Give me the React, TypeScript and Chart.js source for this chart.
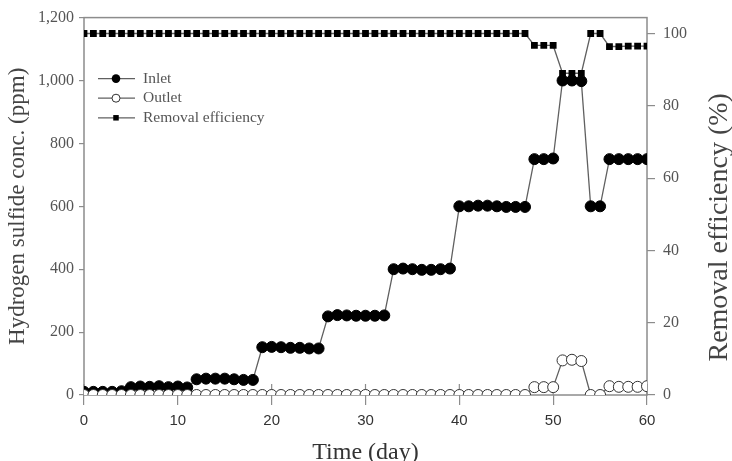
import React, { useEffect, useRef } from "react";
import { Chart, registerables } from "chart.js";

Chart.register(...registerables);

// ---------- data ----------
const days = [
  0, 1, 2, 3, 4, 5, 6, 7, 8, 9,
  10, 11, 12, 13, 14, 15, 16, 17, 18, 19,
  20, 21, 22, 23, 24, 25, 26, 27, 28, 29,
  30, 31, 32, 33, 34, 35, 36, 37, 38, 39,
  40, 41, 42, 43, 44, 45, 46, 47, 48, 49,
  50, 51, 52, 53, 54, 55, 56, 57, 58, 59,
  60,
];

const inlet = [
  10, 10, 10, 10, 12,
  25, 27, 26, 28, 25, 27, 24,
  50, 52, 52, 52, 50, 48, 48,
  152, 153, 152, 150, 150, 148, 148,
  250, 254, 253, 252, 252, 252, 253,
  400, 402, 400, 398, 398, 400, 402,
  600, 600, 602, 602, 600, 598, 598, 598,
  750, 750, 752,
  1000, 1000, 998,
  600, 600,
  750, 750, 750, 750, 750,
];

const outlet = [
  0, 0, 0, 0, 0, 0, 0, 0, 0, 0,
  0, 0, 0, 0, 0, 0, 0, 0, 0, 0,
  0, 0, 0, 0, 0, 0, 0, 0, 0, 0,
  0, 0, 0, 0, 0, 0, 0, 0, 0, 0,
  0, 0, 0, 0, 0, 0, 0, 0,
  25, 25, 25,
  110, 112, 108,
  0, 0,
  28, 26, 26, 26, 28,
];

const removal = [
  100, 100, 100, 100, 100, 100, 100, 100, 100, 100,
  100, 100, 100, 100, 100, 100, 100, 100, 100, 100,
  100, 100, 100, 100, 100, 100, 100, 100, 100, 100,
  100, 100, 100, 100, 100, 100, 100, 100, 100, 100,
  100, 100, 100, 100, 100, 100, 100, 100,
  96.7, 96.7, 96.7,
  89, 89, 89,
  100, 100,
  96.4, 96.4, 96.5, 96.5, 96.5,
];

const xTicks = [0, 10, 20, 30, 40, 50, 60];
const leftTicks = [0, 200, 400, 600, 800, 1000, 1200];
const rightTicks = [0, 20, 40, 60, 80, 100];
const seriesNames = ["Inlet", "Outlet", "Removal efficiency"];
const xTitle = "Time (day)";
const yTitle = "Hydrogen sulfide conc. (ppm)";
const y2Title = "Removal efficiency (%)";

// ---------- style ----------
const W = 732;
const H = 461;
const SERIF = '"Liberation Serif", "Times New Roman", serif';
const SANS = '"Liberation Sans", Arial, sans-serif';
const AXIS = "#8c8c8c";
const LINE = "#606060";

function drawMarker(ctx: CanvasRenderingContext2D, kind: number, x: number, y: number, scale: number) {
  ctx.save();
  ctx.lineWidth = 1;
  if (kind === 0) {
    ctx.beginPath();
    ctx.arc(x, y, 4.3 * scale, 0, Math.PI * 2);
    ctx.fillStyle = "#000";
    ctx.fill();
  } else if (kind === 1) {
    ctx.beginPath();
    ctx.arc(x, y, 4 * scale, 0, Math.PI * 2);
    ctx.fillStyle = "#fff";
    ctx.fill();
    ctx.strokeStyle = "#333";
    ctx.stroke();
  } else {
    const s = 5.5 * scale;
    ctx.fillStyle = "#000";
    ctx.fillRect(x - s / 2, y - s / 2, s, s);
  }
  ctx.restore();
}

const decorPlugin = {
  id: "decor",
  beforeDatasetsDraw(chart: any) {
    const { ctx, chartArea: a, scales } = chart;
    ctx.save();
    ctx.strokeStyle = AXIS;
    ctx.lineWidth = 1.5;
    ctx.strokeRect(a.left, a.top, a.right - a.left, a.bottom - a.top);
    ctx.lineWidth = 1.2;
    for (const t of xTicks) {
      const px = scales.x.getPixelForValue(t);
      ctx.beginPath();
      ctx.moveTo(px, a.bottom);
      ctx.lineTo(px, a.bottom - 11);
      ctx.stroke();
    }
    ctx.restore();
  },
  afterDraw(chart: any) {
    const { ctx, chartArea: a } = chart;
    ctx.save();
    // legend
    const lx0 = a.left + 14;
    const lx1 = a.left + 51;
    const mx = a.left + 32;
    const tx = a.left + 59;
    seriesNames.forEach((name, i) => {
      const y = a.top + 61 + i * 19.6;
      ctx.strokeStyle = LINE;
      ctx.lineWidth = 1.3;
      ctx.beginPath();
      ctx.moveTo(lx0, y);
      ctx.lineTo(lx1, y);
      ctx.stroke();
      drawMarker(ctx, i, mx, y, 1);
      ctx.fillStyle = "#555";
      ctx.font = `15.5px ${SERIF}`;
      ctx.textAlign = "left";
      ctx.textBaseline = "middle";
      ctx.fillText(name, tx, y);
    });
    // right axis title
    ctx.translate(720, (a.top + a.bottom) / 2 + 21);
    ctx.rotate(-Math.PI / 2);
    ctx.fillStyle = "#444";
    ctx.font = `28px ${SERIF}`;
    ctx.textAlign = "center";
    ctx.textBaseline = "middle";
    ctx.fillText(y2Title, 0, 0);
    ctx.restore();
  },
};

export default function App() {
  const ref = useRef<HTMLCanvasElement | null>(null);

  useEffect(() => {
    document.body.style.margin = "0";
    const canvas = ref.current;
    if (!canvas) return;

    const chart = new Chart(canvas, {
      type: "line",
      data: {
        datasets: [
          {
            label: seriesNames[0],
            data: days.map((d, i) => ({ x: d, y: inlet[i] })),
            yAxisID: "y",
            borderColor: LINE,
            borderWidth: 1.3,
            pointRadius: 5.5,
            pointBackgroundColor: "#000",
            pointBorderColor: "#000",
            pointBorderWidth: 1,
            order: 1,
          },
          {
            label: seriesNames[1],
            data: days.map((d, i) => ({ x: d, y: outlet[i] })),
            yAxisID: "y",
            borderColor: LINE,
            borderWidth: 1.3,
            pointRadius: 5.5,
            pointBackgroundColor: "#fff",
            pointBorderColor: "#333",
            pointBorderWidth: 1,
            order: 0,
          },
          {
            label: seriesNames[2],
            data: days.map((d, i) => ({ x: d, y: removal[i] })),
            yAxisID: "y2",
            borderColor: LINE,
            borderWidth: 1.3,
            pointStyle: "rect",
            pointRadius: 4.8,
            pointBackgroundColor: "#000",
            pointBorderColor: "#000",
            pointBorderWidth: 0,
            order: 2,
          },
        ],
      },
      options: {
        responsive: false,
        animation: false,
        devicePixelRatio: 1,
        layout: { padding: { top: 6, left: 0, right: 0, bottom: 0 } },
        elements: { line: { tension: 0 } },
        plugins: {
          legend: { display: false },
          tooltip: { enabled: false },
        },
        scales: {
          x: {
            type: "linear",
            min: 0,
            max: 60,
            afterBuildTicks: (s: any) => {
              s.ticks = xTicks.map((v) => ({ value: v }));
            },
            afterFit: (s: any) => {
              s.height = 66;
            },
            ticks: {
              font: { family: SANS, size: 15 },
              color: "#333",
              padding: 7,
              maxRotation: 0,
              autoSkip: false,
            },
            grid: {
              display: true,
              drawOnChartArea: false,
              drawTicks: true,
              tickLength: 10,
              color: AXIS,
              lineWidth: 1.2,
            },
            border: { display: false },
            title: {
              display: true,
              text: xTitle,
              font: { family: SERIF, size: 24 },
              color: "#333",
              padding: { top: 0, bottom: -6 },
            },
          },
          y: {
            type: "linear",
            position: "left",
            min: 0,
            max: 1200,
            afterBuildTicks: (s: any) => {
              s.ticks = leftTicks.map((v) => ({ value: v }));
            },
            afterFit: (s: any) => {
              s.width = 84;
            },
            ticks: {
              font: { family: SERIF, size: 16 },
              color: "#555",
              padding: 5,
              callback: (v: any) => Number(v).toLocaleString("en-US"),
            },
            grid: {
              display: true,
              drawOnChartArea: false,
              drawTicks: true,
              tickLength: 5,
              color: AXIS,
              lineWidth: 1.2,
            },
            border: { display: false },
            title: {
              display: true,
              text: yTitle,
              font: { family: SERIF, size: 23 },
              color: "#444",
              padding: { top: 4, bottom: 0 },
            },
          },
          y2: {
            type: "linear",
            position: "right",
            min: 0,
            max: 104.4,
            afterBuildTicks: (s: any) => {
              s.ticks = rightTicks.map((v) => ({ value: v }));
            },
            afterFit: (s: any) => {
              s.width = 85;
            },
            ticks: {
              font: { family: SERIF, size: 16 },
              color: "#555",
              padding: 8,
            },
            grid: {
              display: true,
              drawOnChartArea: false,
              drawTicks: true,
              tickLength: 8,
              color: AXIS,
              lineWidth: 1.2,
            },
            border: { display: false },
          },
        },
      },
      plugins: [decorPlugin],
    } as any);

    return () => {
      chart.destroy();
    };
  }, []);

  return (
    <div style={{ width: W, height: H }}>
      <canvas ref={ref} width={W} height={H} style={{ display: "block" }} />
    </div>
  );
}
